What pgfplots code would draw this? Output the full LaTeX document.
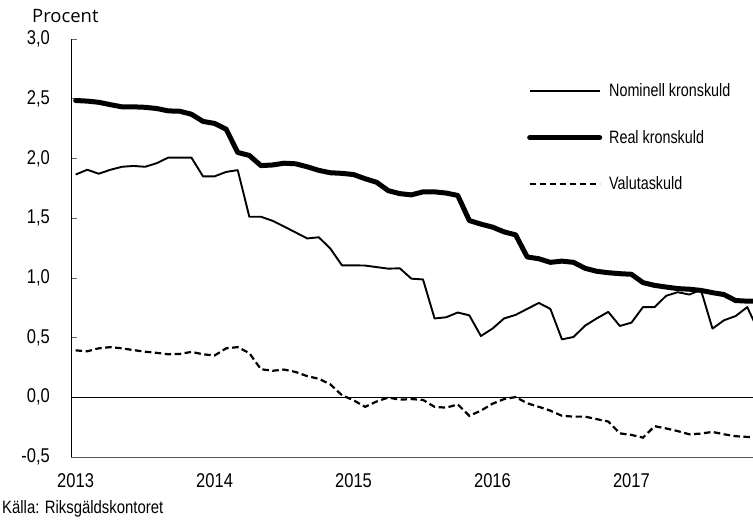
\documentclass[border=0pt]{standalone}
\usepackage{fontspec}
\setmainfont{Liberation Sans}
\newfontfamily\condfont[FakeStretch=0.8]{Liberation Sans}
\newfontfamily\srcfont[FakeStretch=0.83]{Liberation Sans}
\newfontfamily\numfont[FakeStretch=0.83]{Liberation Sans}
\newfontfamily\procfont{Open Sans}
\usepackage{pgfplots}
\pgfplotsset{compat=1.18}

\begin{document}
\begin{tikzpicture}
\path[use as bounding box] (0,0) rectangle (753bp,521bp);
\begin{axis}[
  at={(71bp,64bp)}, anchor=south west,
  scale only axis, width=682bp, height=418bp,
  xmin=-0.4, xmax=58.5, ymin=-0.5, ymax=3,
  axis lines*=left,
  axis line style={line width=0.8bp},
  x axis line style={black!65},
  ytick={-0.5,0,0.5,1,1.5,2,2.5,3},
  yticklabels={{-0,5},{0,0},{0,5},{1,0},{1,5},{2,0},{2,5},{3,0}},
  xtick={0,12,24,36,48},
  xticklabels={2013,2014,2015,2016,2017},
  tick align=inside,
  major tick length=6bp,
  ytick style={black!60, line width=0.6bp},
  xtick style={draw=none},
  yticklabel style={font=\numfont\fontsize{20}{24}\selectfont, inner sep=0pt, xshift=-21bp},
  xticklabel style={font=\numfont\fontsize{20}{24}\selectfont, inner sep=0pt, yshift=-16bp},
  legend style={at={(0.6686,0.893)}, anchor=north west, draw=none, fill=none, inner sep=0pt,
    font=\condfont\fontsize{18}{21}\selectfont, row sep=32bp, nodes={inner sep=0pt},
    /tikz/every odd column/.append style={column sep=7bp}},
  legend cell align=left,
  legend image code/.code={\draw[#1] (0bp,0bp) -- (70bp,0bp);},
]
\addplot[black, line width=0.9bp, forget plot] coordinates {(-0.4,0) (58.5,0)};

\addplot[black, line width=1.9bp, line join=round] table {
x y
0 1.865
1 1.905
2 1.872
3 1.905
4 1.93
5 1.937
6 1.93
7 1.96
8 2.007
9 2.007
10 2.007
11 1.85
12 1.85
13 1.887
14 1.902
15 1.512
16 1.512
17 1.478
18 1.43
19 1.38
20 1.33
21 1.34
22 1.245
23 1.105
24 1.105
25 1.103
26 1.09
27 1.077
28 1.08
29 0.993
30 0.987
31 0.66
32 0.67
33 0.71
34 0.686
35 0.513
36 0.575
37 0.66
38 0.69
39 0.74
40 0.79
41 0.74
42 0.485
43 0.505
44 0.60
45 0.66
46 0.715
47 0.597
48 0.625
49 0.755
50 0.755
51 0.85
52 0.88
53 0.86
54 0.90
55 0.575
56 0.645
57 0.68
58 0.755
59 0.55
};
\addlegendentry{Nominell kronskuld}

\addplot[black, line width=5bp, line join=round, line cap=round] table {
x y
0 2.485
1 2.48
2 2.47
3 2.45
4 2.432
5 2.432
6 2.428
7 2.418
8 2.398
9 2.395
10 2.37
11 2.31
12 2.293
13 2.245
14 2.05
15 2.025
16 1.94
17 1.945
18 1.96
19 1.955
20 1.93
21 1.90
22 1.88
23 1.875
24 1.865
25 1.83
26 1.80
27 1.73
28 1.705
29 1.695
30 1.72
31 1.72
32 1.71
33 1.69
34 1.48
35 1.45
36 1.425
37 1.385
38 1.36
39 1.175
40 1.16
41 1.13
42 1.14
43 1.13
44 1.08
45 1.055
46 1.043
47 1.035
48 1.03
49 0.96
50 0.937
51 0.923
52 0.91
53 0.905
54 0.895
55 0.876
56 0.86
57 0.81
58 0.805
59 0.805
};
\addlegendentry{Real kronskuld}

\addplot[black, line width=2.2bp, dash pattern=on 6.5bp off 3.5bp] table {
x y
0 0.393
1 0.385
2 0.41
3 0.42
4 0.41
5 0.395
6 0.382
7 0.372
8 0.36
9 0.363
10 0.38
11 0.36
12 0.35
13 0.41
14 0.42
15 0.37
16 0.235
17 0.222
18 0.232
19 0.212
20 0.177
21 0.155
22 0.108
23 0.017
24 -0.025
25 -0.08
26 -0.035
27 -0.002
28 -0.02
29 -0.015
30 -0.022
31 -0.08
32 -0.087
33 -0.06
34 -0.155
35 -0.112
36 -0.054
37 -0.015
38 0.002
39 -0.05
40 -0.08
41 -0.112
42 -0.155
43 -0.162
44 -0.162
45 -0.183
46 -0.203
47 -0.302
48 -0.315
49 -0.338
50 -0.242
51 -0.261
52 -0.283
53 -0.31
54 -0.304
55 -0.29
56 -0.31
57 -0.326
58 -0.332
59 -0.332
};
\addlegendentry{Valutaskuld}
\end{axis}
\node[anchor=west, inner sep=0pt, font=\procfont\fontsize{18.5}{22}\selectfont] at (32bp,504.5bp) {Procent};
\node[anchor=base west, inner sep=0pt, font=\srcfont\fontsize{18}{21}\selectfont] at (2bp,8bp) {Källa: Riksgäldskontoret};
\end{tikzpicture}
\end{document}
